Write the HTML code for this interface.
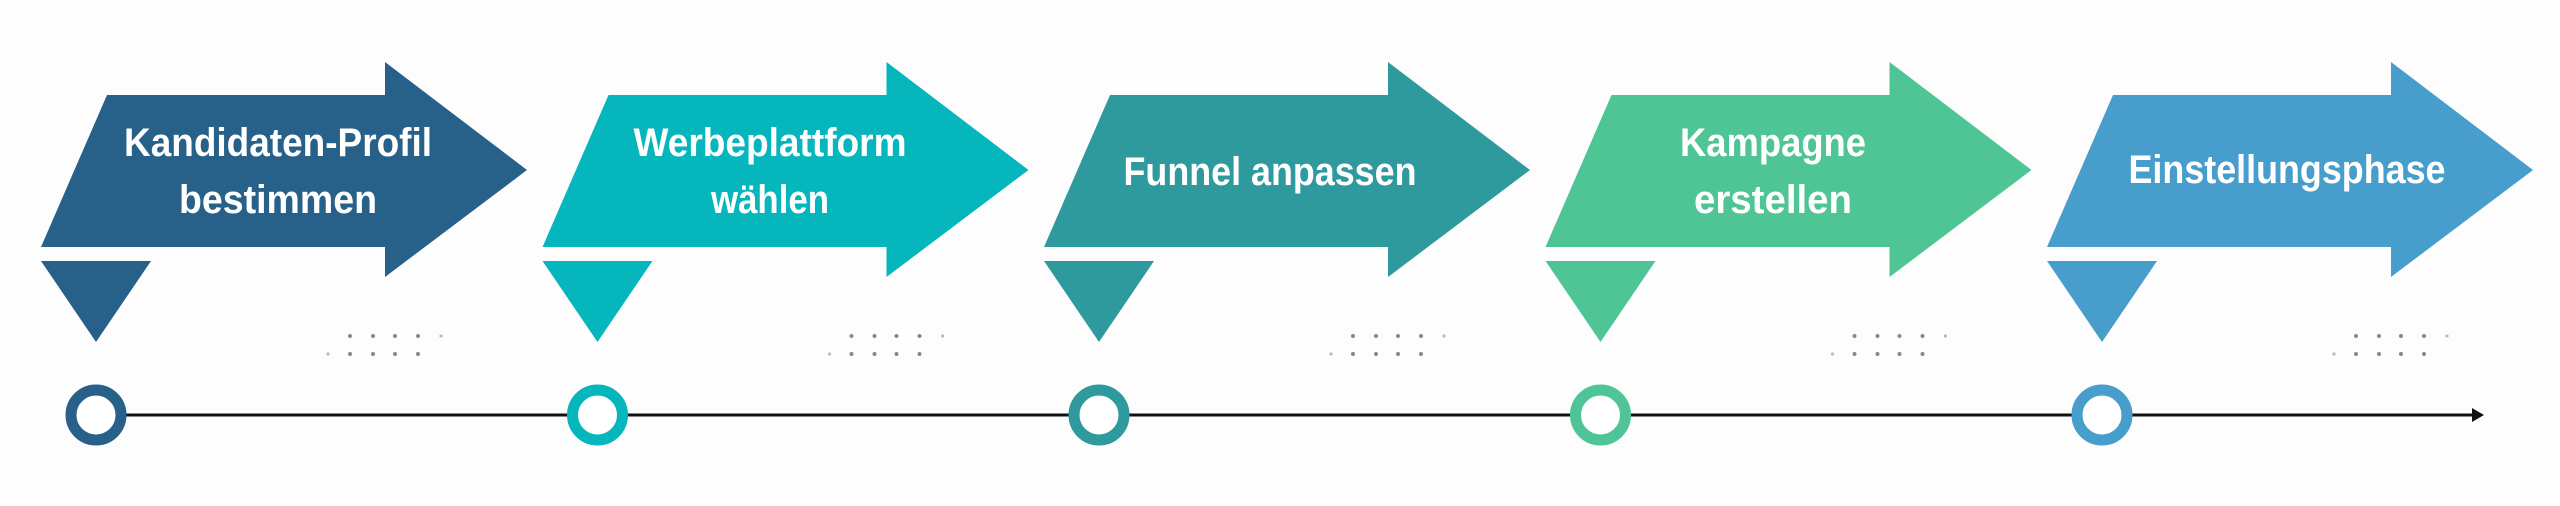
<!DOCTYPE html>
<html><head><meta charset="utf-8"><style>
html,body{margin:0;padding:0;background:#fdfdfd;}
svg{display:block}
text{font-family:"Liberation Sans",sans-serif;font-weight:bold;fill:#fff;font-size:40px;text-anchor:middle}
</style></head><body>
<svg width="2560" height="506" viewBox="0 0 2560 506" xmlns="http://www.w3.org/2000/svg">
<defs>
<g id="arr">
<polygon points="107,95 385,95 385,62 527,170 385,277 385,247 41,247"/>
<polygon points="41,261 151,261 96,342"/>
<g fill="#888"><circle cx="350" cy="336" r="2"/><circle cx="373" cy="336" r="2"/><circle cx="395" cy="336" r="2"/><circle cx="418" cy="336" r="2"/><circle cx="441" cy="336" r="1.6" fill="#bbb"/>
<circle cx="328" cy="354" r="1.6" fill="#bbb"/><circle cx="350" cy="354" r="2"/><circle cx="373" cy="354" r="2"/><circle cx="395" cy="354" r="2"/><circle cx="418" cy="354" r="2"/></g>
</g>
</defs>
<line x1="96" y1="415" x2="2476" y2="415" stroke="#111" stroke-width="3"/>
<polygon points="2472,408 2484,415 2472,422" fill="#111"/>
<g fill="#276189"><use href="#arr"/></g>
<g fill="#06b6bd" transform="translate(501.5,0)"><use href="#arr"/></g>
<g fill="#2e9a9e" transform="translate(1003,0)"><use href="#arr"/></g>
<g fill="#4fc596" transform="translate(1504.5,0)"><use href="#arr"/></g>
<g fill="#479dcb" transform="translate(2006,0)"><use href="#arr"/></g>
<g fill="#fff" stroke-width="11">
<circle cx="96" cy="415" r="25" stroke="#276189"/>
<circle cx="597.5" cy="415" r="25" stroke="#06b6bd"/>
<circle cx="1099" cy="415" r="25" stroke="#2e9a9e"/>
<circle cx="1600.5" cy="415" r="25" stroke="#4fc596"/>
<circle cx="2102" cy="415" r="25" stroke="#479dcb"/>
</g>
<text x="278" y="156" textLength="308" lengthAdjust="spacingAndGlyphs">Kandidaten-Profil</text>
<text x="278" y="213" textLength="198" lengthAdjust="spacingAndGlyphs">bestimmen</text>
<text x="770" y="156" textLength="273" lengthAdjust="spacingAndGlyphs">Werbeplattform</text>
<text x="770" y="213" textLength="118" lengthAdjust="spacingAndGlyphs">wählen</text>
<text x="1270" y="185" textLength="293" lengthAdjust="spacingAndGlyphs">Funnel anpassen</text>
<text x="1773" y="156" textLength="186" lengthAdjust="spacingAndGlyphs">Kampagne</text>
<text x="1773" y="213" textLength="158" lengthAdjust="spacingAndGlyphs">erstellen</text>
<text x="2287" y="183" textLength="317" lengthAdjust="spacingAndGlyphs">Einstellungsphase</text>
</svg>
</body></html>
